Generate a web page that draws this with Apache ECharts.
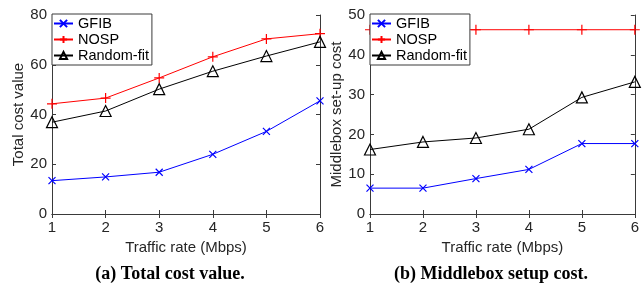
<!DOCTYPE html>
<html>
<head>
<meta charset="utf-8">
<script src="https://cdn.jsdelivr.net/npm/echarts@6/dist/echarts.min.js"></script>
<style>
  html, body { margin: 0; padding: 0; background: #fff; }
  #chart { width: 642px; height: 289px; }
</style>
</head>
<body>
<div id="chart"></div>
<script>
var rates = [1, 2, 3, 4, 5, 6];

// (a) total cost value
var totalGfib = [13.4, 14.9, 16.8, 24.0, 33.2, 45.5];
var totalNosp = [44.3, 46.6, 54.7, 63.2, 70.4, 72.5];
var totalRandom = [36.9, 41.4, 50.2, 57.4, 63.5, 69.2];

// (b) middlebox set-up cost
var setupGfib = [6.5, 6.5, 8.9, 11.2, 17.7, 17.7];
var setupNosp = [46.3, 46.3, 46.3, 46.3, 46.3, 46.3];
var setupRandom = [16.2, 18.1, 19.1, 21.3, 29.3, 33.2];

var names = ['GFIB', 'NOSP', 'Random-fit'];
var colors = ['#0000ff', '#ff0000', '#000000'];
var symbols = [
  'path://M0,0L10,10M10,0L0,10',
  'path://M5,0L5,10M0,5L10,5',
  'triangle'
];
var symbolSizes = [7, 10, 11];

var axisColor = '#3a3a3a';
var textColor = '#262626';
var font = 'Liberation Sans';

function pairs(ys) {
  return rates.map(function (x, i) { return [x, ys[i]]; });
}

function makeSeries(data, gridIdx) {
  return data.map(function (ys, k) {
    return {
      name: names[k],
      type: 'line',
      xAxisIndex: gridIdx * 2,
      yAxisIndex: gridIdx * 2,
      data: pairs(ys),
      symbol: symbols[k],
      symbolSize: symbolSizes[k],
      showAllSymbol: true,
      lineStyle: { color: colors[k], width: 1 },
      itemStyle: { color: 'rgba(0,0,0,0)', borderColor: colors[k], borderWidth: 1.2 },
      emphasis: { disabled: true },
      animation: false
    };
  });
}

function xAxes(gridIdx) {
  return [{
    type: 'value', gridIndex: gridIdx, min: 1, max: 6, interval: 1,
    position: 'bottom',
    name: 'Traffic rate (Mbps)', nameLocation: 'middle', nameGap: 25,
    nameTextStyle: { fontFamily: font, fontSize: 15, color: textColor },
    axisLine: { lineStyle: { color: axisColor, width: 1 } },
    axisTick: { inside: true, length: 4, lineStyle: { color: axisColor } },
    axisLabel: { fontFamily: font, fontSize: 15, color: textColor, margin: 6 },
    splitLine: { show: false }
  }, {
    type: 'value', gridIndex: gridIdx, min: 1, max: 6, interval: 1,
    position: 'top',
    axisLine: { lineStyle: { color: axisColor, width: 1 } },
    axisTick: { inside: true, length: 4, lineStyle: { color: axisColor } },
    axisLabel: { show: false },
    splitLine: { show: false }
  }];
}

function yAxes(gridIdx, max, interval, title, gap) {
  return [{
    type: 'value', gridIndex: gridIdx, min: 0, max: max, interval: interval,
    position: 'left',
    name: title, nameLocation: 'middle', nameGap: gap, nameRotate: 90,
    nameTextStyle: { fontFamily: font, fontSize: 15, color: textColor },
    axisLine: { show: true, lineStyle: { color: axisColor, width: 1 } },
    axisTick: { show: true, inside: true, length: 4, lineStyle: { color: axisColor } },
    axisLabel: { fontFamily: font, fontSize: 15, color: textColor, margin: 5 },
    splitLine: { show: false }
  }, {
    type: 'value', gridIndex: gridIdx, min: 0, max: max, interval: interval,
    position: 'right',
    axisLine: { show: true, lineStyle: { color: axisColor, width: 1 } },
    axisTick: { show: true, inside: true, length: 4, lineStyle: { color: axisColor } },
    axisLabel: { show: false },
    splitLine: { show: false }
  }];
}

function legend(left) {
  return {
    left: left, top: 14,
    orient: 'vertical',
    data: names,
    itemWidth: 19, itemHeight: 9, itemGap: 1,
    padding: [2, 3, 2, 1],
    backgroundColor: '#ffffff',
    borderColor: axisColor, borderWidth: 1, borderRadius: 0,
    textStyle: { fontFamily: font, fontSize: 14.5, color: '#000' },
    selectedMode: false,
    z: 10
  };
}

var chart = echarts.init(document.getElementById('chart'), null, { renderer: 'canvas' });

var captionStyle = { fontFamily: 'Liberation Serif', fontWeight: 'bold', fontSize: 18, color: '#000' };

var option = {
  backgroundColor: '#ffffff',
  animation: false,
  grid: [
    { left: 52, top: 15, width: 268, height: 199 },
    { left: 370, top: 15, width: 265, height: 199 }
  ],
  xAxis: xAxes(0).concat(xAxes(1)),
  yAxis: yAxes(0, 80, 20, 'Total cost value', 25).concat(yAxes(1, 50, 10, 'Middlebox set-up cost', 25)),
  legend: [legend(52), legend(370)],
  title: [
    { text: '(a) Total cost value.', left: 170, top: 265, textAlign: 'center', padding: 0, textStyle: captionStyle },
    { text: '(b) Middlebox setup cost.', left: 491, top: 265, textAlign: 'center', padding: 0, textStyle: captionStyle }
  ],
  series: makeSeries([totalGfib, totalNosp, totalRandom], 0)
    .concat(makeSeries([setupGfib, setupNosp, setupRandom], 1))
};

chart.setOption(option);
</script>
</body>
</html>
